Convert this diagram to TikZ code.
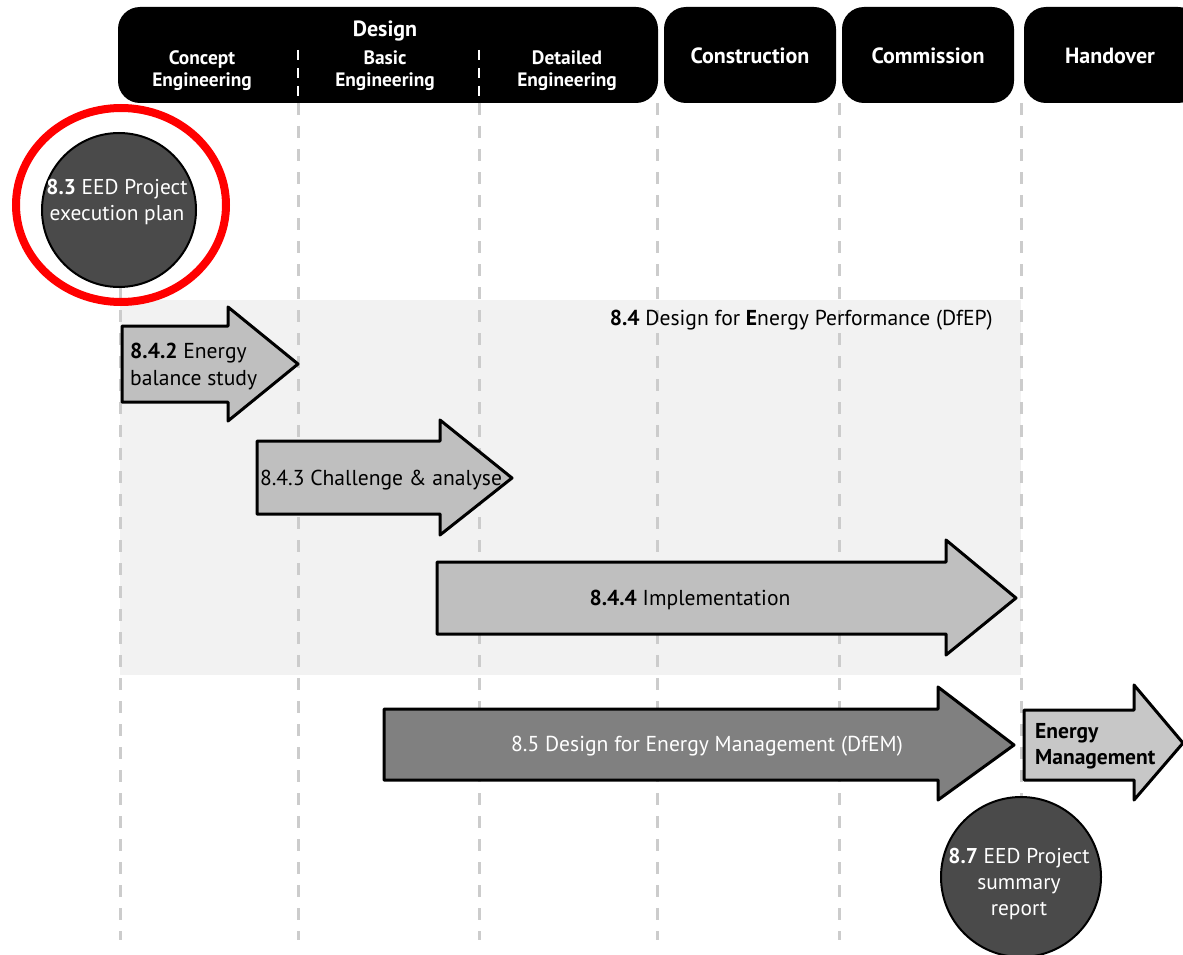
\documentclass[tikz,border=0pt]{standalone}
\usepackage{fontspec}
\setmainfont{PT Sans}
\usetikzlibrary{positioning}
\tikzset{
	phase/.style={fill=black, rounded corners=22pt},
	phasetext/.style={text=white, font=\bfseries\fontsize{22}{24}\selectfont, align=center},
	subphase/.style={text=white, font=\bfseries\fontsize{19.4}{22}\selectfont, align=center},
	gridline/.style={draw=black!20, line width=3pt, dash pattern=on 12pt off 11pt},
	sepline/.style={draw=white, line width=2pt, dash pattern=on 10pt off 8pt},
	band/.style={fill=black!5},
	lightarrow/.style={draw=black, line width=3pt, line join=round, fill=black!25},
	darkarrow/.style={draw=black, line width=3pt, line join=round, fill=black!50},
	arrowtext/.style={font=\fontsize{21.6}{27}\selectfont, align=left, inner sep=0pt},
	milestone/.style={draw=black, line width=2pt, fill=black!71},
	milestonetext/.style={text=white, font=\fontsize{21.4}{26}\selectfont, align=center, inner sep=0pt}
}
\begin{document}
\begin{tikzpicture}[x=1pt,y=-1pt]
	\useasboundingbox (0,0) rectangle (1183,955);
	% phases
	\fill[phase] (118,7) rectangle (658,103);
	\fill[phase] (664,7) rectangle (836,103);
	\fill[phase] (842,7) rectangle (1014,103);
	\fill[phase] (1024,7) rectangle (1200,103);
	\node[phasetext] (design) at (385,31) {Design};
	\node[subphase] (concept) at (202,71) {Concept\\Engineering};
	\node[subphase] (basic) at (385,71) {Basic\\Engineering};
	\node[subphase] (detailed) at (567,71) {Detailed\\Engineering};
	\node[phasetext] (construction) at (750,56) {Construction};
	\node[phasetext] (commission) at (928,56) {Commission};
	\node[phasetext] (handover) at (1110,56) {Handover};
	\draw[sepline] (298,50) -- (298,103);
	\draw[sepline] (479,50) -- (479,103);
	% DfEP band
	\fill[band] (120,300) rectangle (1021,675);
	% grid
	\draw[gridline] (120,287) -- (120,940);
	\foreach \x in {298,479,657,839} {
		\draw[gridline] (\x,103) -- (\x,940);
	}
	\draw[gridline] (1021,103) -- (1021,800);
	\node[arrowtext, anchor=east] (dfep) at (993,320) {{\bfseries 8.4} Design for {\bfseries E}nergy Performance (DfEP)};
	% activities
	\draw[lightarrow] (122,326) -- (228,326) -- (228,307) -- (298,364) -- (228,421) -- (228,402) -- (122,402) -- cycle;
	\node[arrowtext, anchor=west] (balance) at (130,366) {{\bfseries 8.4.2} Energy\\balance study};
	\draw[lightarrow] (257,441) -- (440,441) -- (440,420) -- (512,478) -- (440,535) -- (440,514) -- (257,514) -- cycle;
	\node[arrowtext] (challenge) at (381,480) {8.4.3 Challenge \& analyse};
	\draw[lightarrow] (437,562) -- (946,562) -- (946,540) -- (1016,598) -- (946,655) -- (946,634) -- (437,634) -- cycle;
	\node[arrowtext] (implementation) at (690,600) {{\bfseries 8.4.4} Implementation};
	\draw[darkarrow] (384,709) -- (938,709) -- (938,687) -- (1014,745) -- (938,800) -- (938,780) -- (384,780) -- cycle;
	\node[arrowtext, text=white] (dfem) at (707,746) {8.5 Design for Energy Management (DfEM)};
	\draw[lightarrow, fill=black!22] (1024,710) -- (1134,710) -- (1134,685) -- (1183,743) -- (1134,800) -- (1134,780) -- (1024,780) -- cycle;
	\node[arrowtext, font=\bfseries\fontsize{21.5}{26}\selectfont, anchor=west] (management) at (1035,746) {Energy\\Management};
	% milestones
	\draw[milestone] (119,210) circle (77pt);
	\node[milestonetext] (plan) at (117,202) {{\bfseries 8.3} EED Project\\execution plan};
	\draw[red, line width=8pt] (121,205) ellipse [x radius=105pt, y radius=97pt];
	\draw[milestone] (1021,877) circle (80pt);
	\node[milestonetext] (summary) at (1019,884) {{\bfseries 8.7} EED Project\\summary\\report};
\end{tikzpicture}
\end{document}
